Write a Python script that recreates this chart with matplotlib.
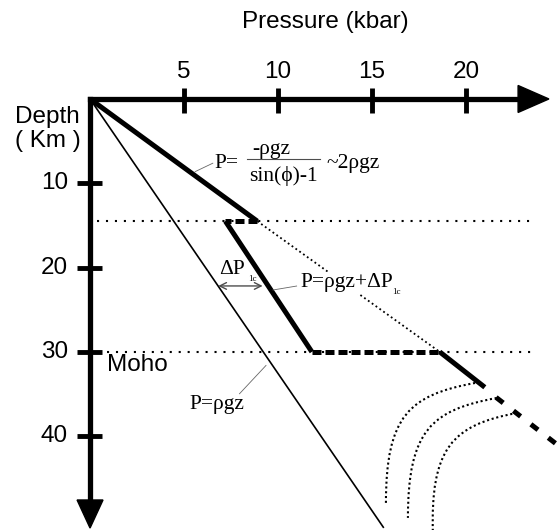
import matplotlib
matplotlib.use("Agg")
import matplotlib.pyplot as plt
from matplotlib.patches import Polygon, PathPatch
from matplotlib.path import Path

# axis ticks
p_ticks = [5, 10, 15, 20]
z_ticks = [10, 20, 30, 40]

# depth levels (km)
z_break = 14.5
z_moho = 30

# P = rho g z (lithostatic)
litho_P = [0, 15.6]
litho_z = [0, 50.8]

# critical state line P ~ 2 rho g z
crit_P = [0, 8.9]
crit_z = [0, 14.5]
crit_dot_P = [8.9, 18.6]
crit_dot_z = [14.5, 30]
mantle_P = [18.6, 21.0]
mantle_z = [30, 34.2]
mantle_dash_P = [21.6, 25.6]
mantle_dash_z = [35.4, 42.3]

# jump at the break and lower crust P = rho g z + dP
jump_P = [8.9, 7.2]
jump_z = [14.5, 14.5]
crust_P = [7.2, 11.8]
crust_z = [14.5, 30]
moho_jump_P = [11.8, 18.6]
moho_jump_z = [30, 30]

# dotted curves (bezier control points)
curve1_P = [20.48, 17.02, 15.74, 15.74]
curve1_z = [33.69, 35.11, 37.49, 47.92]
curve2_P = [21.63, 18.19, 16.91, 16.91]
curve2_z = [35.47, 36.89, 39.26, 49.69]
curve3_P = [22.71, 19.26, 18.09, 18.24]
curve3_z = [37.25, 38.67, 41.41, 51.72]

sans = ['Liberation Sans', 'DejaVu Sans']
serif = ['Liberation Serif', 'DejaVu Serif']
fs = 17.5   # sans labels
fm = 15.5   # serif formulas

fig = plt.figure(figsize=(5.57, 5.30), dpi=100)
ax = fig.add_axes([0, 0, 1, 1])
ax.set_xlim(-4.79, 24.84)
ax.set_ylim(51.13, -11.74)
ax.axis('off')

# axes with arrows
ax.plot([0, 22.9], [0, 0], color='black', lw=3.8, solid_capstyle='projecting')
ax.plot([0, 0], [0, 47.8], color='black', lw=3.8, solid_capstyle='projecting')
ax.add_patch(Polygon([(22.77, -1.6), (24.41, 0), (22.77, 1.6)], closed=True, color='black'))
ax.add_patch(Polygon([(-0.69, 47.57), (0, 50.9), (0.69, 47.57)], closed=True, color='black'))

for p in p_ticks:
    ax.plot([p, p], [-1.3, 1.66], color='black', lw=3.5, solid_capstyle='butt')
    ax.text(p, -1.9, str(p), ha='center', va='bottom', fontsize=fs, family=sans)
for z in z_ticks:
    ax.plot([-0.69, 0.64], [z, z], color='black', lw=3.5, solid_capstyle='butt')
    ax.text(-1.17, z, str(z), ha='right', va='center', fontsize=fs, family=sans)

ax.text(12.5, -9.1, 'Pressure (kbar)', ha='center', va='center', fontsize=fs, family=sans)
ax.text(-4.0, 2.1, 'Depth', ha='left', va='center', fontsize=fs, family=sans)
ax.text(-4.0, 5.0, '( Km )', ha='left', va='center', fontsize=fs, family=sans)
ax.text(0.9, 31.6, 'Moho', ha='left', va='center', fontsize=fs, family=sans)

# horizontal dotted levels
ax.plot([0.36, 23.67], [z_break, z_break], color='black', lw=1.5, dashes=(1, 3.3))
ax.plot([0.89, 23.67], [z_moho, z_moho], color='black', lw=1.5, dashes=(1, 3.3))

# lithostatic line
ax.plot(litho_P, litho_z, color='black', lw=1.2)

# critical state line
ax.plot(crit_P, crit_z, color='black', lw=3.6, solid_capstyle='butt')
ax.plot(crit_dot_P, crit_dot_z, color='black', lw=1.3, dashes=(1, 1.6))
ax.plot(mantle_P, mantle_z, color='black', lw=3.6, solid_capstyle='butt')
ax.plot(mantle_dash_P, mantle_dash_z, color='black', lw=3.6, dashes=(1.8, 2.6), dash_capstyle='butt')

# crust with offset
ax.plot(jump_P, jump_z, color='black', lw=3.6, dashes=(1.8, 0.8), dash_capstyle='butt')
ax.plot(crust_P, crust_z, color='black', lw=3.6, solid_capstyle='butt')
ax.plot(moho_jump_P, moho_jump_z, color='black', lw=3.6, dashes=(1.8, 0.8), dash_capstyle='butt')

# dotted curves
codes = [Path.MOVETO, Path.CURVE4, Path.CURVE4, Path.CURVE4]
for cp, cz in [(curve1_P, curve1_z), (curve2_P, curve2_z), (curve3_P, curve3_z)]:
    path = Path(list(zip(cp, cz)), codes)
    ax.add_patch(PathPatch(path, fill=False, edgecolor='black', lw=1.5, linestyle=(0, (1, 1.3))))

# annotations
ax.plot([5.59, 6.53], [8.62, 7.62], color='0.4', lw=0.6)
ax.text(6.6, 7.6, 'P=', ha='left', va='center', fontsize=fm, family=serif)
ax.text(9.66, 6.0, '-ρgz', ha='center', va='center', fontsize=fm, family=serif)
ax.plot([8.34, 12.23], [7.15, 7.15], color='0.3', lw=0.8)
ax.text(10.27, 9.1, 'sin(ϕ)-1', ha='center', va='center', fontsize=fm, family=serif)
ax.text(12.6, 7.6, '~2ρgz', ha='left', va='center', fontsize=fm, family=serif)

ax.text(6.85, 20.2, 'ΔP', ha='left', va='center', fontsize=fm, family=serif)
ax.text(8.4, 21.4, '1c', ha='left', va='center', fontsize=6.5, family=serif)
ax.annotate('', xy=(6.82, 22.18), xytext=(9.18, 22.18),
            arrowprops=dict(arrowstyle='<->', color='0.3', lw=1.0, mutation_scale=12,
                            shrinkA=0, shrinkB=0))

ax.plot([9.73, 10.99], [22.66, 22.19], color='0.4', lw=0.6)
ax.text(11.2, 21.8, 'P=ρgz+ΔP', ha='left', va='center', fontsize=fm, family=serif,
        bbox=dict(facecolor='white', edgecolor='none', pad=1))
ax.text(16.1, 22.9, '1c', ha='left', va='center', fontsize=6.5, family=serif)

ax.plot([7.95, 9.36], [34.97, 31.61], color='0.4', lw=0.6)
ax.text(6.75, 36.2, 'P=ρgz', ha='center', va='center', fontsize=fm, family=serif)

fig.savefig('out.png', dpi=100)
